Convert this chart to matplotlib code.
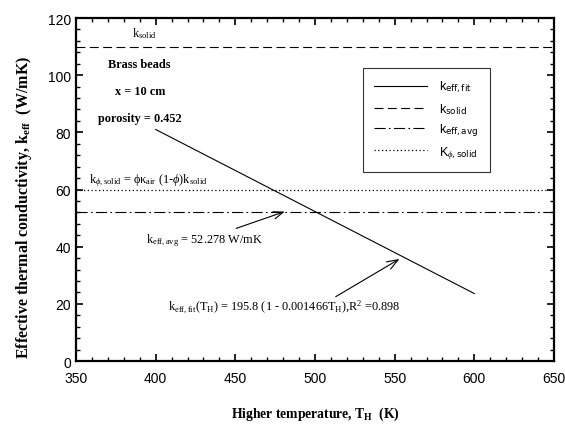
import numpy as np
import matplotlib.pyplot as plt
from matplotlib.ticker import MultipleLocator

# data
t_fit = [400, 600]
k_fit = [81.0, 23.6]
k_solid = 110.0
k_phi_solid = 60.0
k_eff_avg = 52.278
t_range = [350, 650]

serif = ['Liberation Serif', 'DejaVu Serif']
sans = ['Liberation Sans', 'DejaVu Sans']
plt.rcParams['font.family'] = sans
plt.rcParams['mathtext.fontset'] = 'custom'
plt.rcParams['mathtext.rm'] = 'Liberation Serif'
plt.rcParams['mathtext.it'] = 'Liberation Serif:italic'
plt.rcParams['mathtext.bf'] = 'Liberation Serif:bold'

fig = plt.figure(figsize=(5.65, 4.27), dpi=100)
ax = fig.add_axes([0.1345, 0.1522, 0.846, 0.8033])

ax.plot(t_fit, k_fit, color='black', lw=0.8, label=r'k$_{\mathsf{eff,fit}}$')
ax.plot(t_range, [k_solid, k_solid], color='black', lw=0.8, ls=(0, (8, 4)),
        label=r'k$_{\mathsf{solid}}$')
ax.plot(t_range, [k_eff_avg, k_eff_avg], color='black', lw=0.8,
        ls=(0, (10, 3, 1.5, 3)), label=r'k$_{\mathsf{eff,avg}}$')
ax.plot(t_range, [k_phi_solid, k_phi_solid], color='black', lw=0.9,
        ls=(0, (1, 2)), label=r'K$_{\phi\mathsf{,solid}}$')

ax.set_xlim(350, 650)
ax.set_ylim(0, 120)
ax.xaxis.set_major_locator(MultipleLocator(50))
ax.xaxis.set_minor_locator(MultipleLocator(10))
ax.yaxis.set_major_locator(MultipleLocator(20))
ax.yaxis.set_minor_locator(MultipleLocator(4))
ax.tick_params(which='both', direction='in', top=True, right=True, labelsize=10)
ax.tick_params(which='major', length=5, width=1.2)
ax.tick_params(which='minor', length=3, width=1.0)
ax.tick_params(axis='x', which='major', pad=7)
for s in ax.spines.values():
    s.set_linewidth(1.6)

leg = ax.legend(loc='upper right', bbox_to_anchor=(0.866, 0.854), fontsize=9,
                handlelength=4.2, frameon=True, fancybox=False, edgecolor='black',
                borderpad=0.9, labelspacing=0.45, handletextpad=1.0,
                borderaxespad=0)
leg.get_frame().set_linewidth(0.8)

ax.set_xlabel(r'Higher temperature, T$_{\mathbf{H}}$  (K)', fontfamily=serif,
              fontweight='bold', fontsize=9.8, labelpad=14)
fig.text(24 / 565, 1 - 207 / 427,
         r'Effective thermal conductivity, k$_{\mathbf{eff}}$  (W/mK)',
         fontfamily=serif, fontweight='bold', fontsize=11.5, rotation=90,
         ha='center', va='center')

ax.text(393, 115, r'k$_{\mathrm{solid}}$', fontfamily=serif, fontsize=8.8,
        ha='center', va='center')
ax.text(390, 104, 'Brass beads', fontfamily=serif, fontweight='bold', fontsize=8.8,
        ha='center', va='center')
ax.text(390, 94.5, 'x = 10 cm', fontfamily=serif, fontweight='bold', fontsize=8.8,
        ha='center', va='center')
ax.text(390, 85, 'porosity = 0.452', fontfamily=serif, fontweight='bold', fontsize=8.8,
        ha='center', va='center')
ax.text(358, 63.5, r'k$_{\phi\mathrm{,solid}}$ = $\mathrm{\phi\kappa}_{\mathrm{air}}$ (1-$\phi$)k$_{\mathrm{solid}}$',
        fontfamily=serif, fontsize=8.8, ha='left', va='center')

ax.annotate(r'k$_{\mathrm{eff,avg}}$ = 52.278 W/mK', xy=(481, k_eff_avg),
            xytext=(467, 42.5), fontfamily=serif, fontsize=8.8, ha='right', va='center',
            arrowprops=dict(arrowstyle='->,head_length=0.8,head_width=0.3',
                            color='black', lw=0.8, shrinkA=0, shrinkB=0))
ax.annotate(r'k$_{\mathrm{eff,fit}}$(T$_{\mathrm{H}}$) = 195.8 (1 - 0.001466T$_{\mathrm{H}}$),R$^{2}$ =0.898',
            xy=(553, 35.7), xytext=(408, 19.5), fontfamily=serif, fontsize=8.8,
            ha='left', va='center')
ax.annotate('', xy=(553, 35.7), xytext=(513, 22.5),
            arrowprops=dict(arrowstyle='->,head_length=0.8,head_width=0.3',
                            color='black', lw=0.8, shrinkA=0, shrinkB=0))

fig.savefig('out.png', dpi=100)
